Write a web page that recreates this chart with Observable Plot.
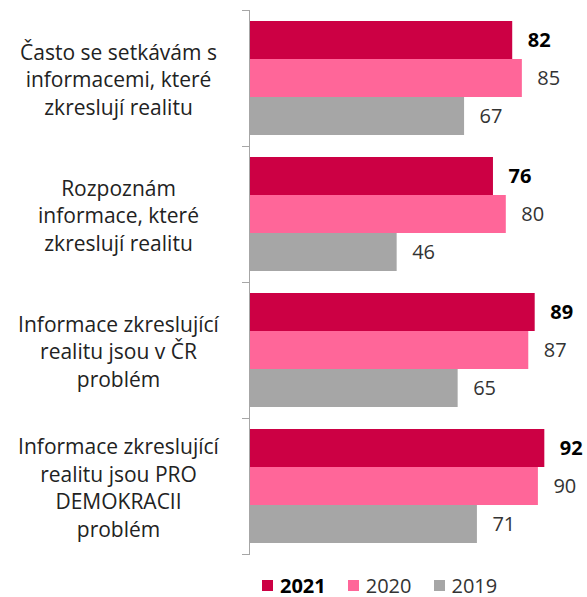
<!DOCTYPE html>
<html>
<head>
<meta charset="utf-8">
<script src="https://cdn.jsdelivr.net/npm/d3@7"></script>
<script src="https://cdn.jsdelivr.net/npm/@observablehq/plot@0.6"></script>
<style>
  html, body { margin: 0; padding: 0; background: #fff; }
  body { width: 587px; height: 597px; overflow: hidden; font-family: "Open Sans", sans-serif; }
  #legend { display: flex; align-items: center; height: 34px; padding-left: 262px; font-size: 20px; color: #333; }
  #legend .item { display: flex; align-items: center; margin-right: 22px; }
  #legend .sw { width: 11px; height: 11px; margin-right: 7px; }
</style>
</head>
<body>
<div id="chart"></div>
<div id="legend"></div>
<script>
const categories = [
  "Často se setkávám s informacemi, které zkreslují realitu",
  "Rozpoznám informace, které zkreslují realitu",
  "Informace zkreslující realitu jsou v ČR problém",
  "Informace zkreslující realitu jsou PRO DEMOKRACII problém"
];
const categoryLabels = [
  "Často se setkávám s\ninformacemi, které\nzkreslují realitu",
  "Rozpoznám\ninformace, které\nzkreslují realitu",
  "Informace zkreslující\nrealitu jsou v ČR\nproblém",
  "Informace zkreslující\nrealitu jsou PRO\nDEMOKRACII\nproblém"
];
const years = ["2021", "2020", "2019"];
const values2021 = [82, 76, 89, 92];
const values2020 = [85, 80, 87, 90];
const values2019 = [67, 46, 65, 71];
const colors = ["#CC0044", "#FF6699", "#A6A6A6"];

const seriesValues = [values2021, values2020, values2019];
const data = [];
categories.forEach((c, i) => {
  years.forEach((y, j) => data.push({category: c, year: y, value: seriesValues[j][i]}));
});
const labelOf = new Map(categories.map((c, i) => [c, categoryLabels[i]]));
const axisGray = "#A6A6A6";

const chart = Plot.plot({
  width: 587,
  height: 568,
  marginLeft: 249,
  marginRight: 17,
  marginTop: 9,
  marginBottom: 14,
  style: {fontFamily: "Open Sans, sans-serif", background: "#fff"},
  x: {domain: [0, 100], axis: null},
  y: {domain: years, paddingInner: 0, paddingOuter: 0.28, axis: null},
  fy: {domain: categories, padding: 0, axis: null},
  color: {domain: years, range: colors},
  marks: [
    Plot.barX(data, {x: "value", y: "year", fy: "category", fill: "year"}),
    Plot.frame({anchor: "left", stroke: axisGray}),
    Plot.frame({anchor: "top", stroke: axisGray, insetLeft: -7, insetRight: 321}),
    Plot.frame({anchor: "bottom", stroke: axisGray, insetLeft: -7, insetRight: 321}),
    Plot.text(data.filter(d => d.year === "2021"), {
      x: "value", y: "year", fy: "category", text: d => String(d.value),
      textAnchor: "start", dx: 15, fontSize: 20, fontWeight: "bold", fill: "#000"
    }),
    Plot.text(data.filter(d => d.year !== "2021"), {
      x: "value", y: "year", fy: "category", text: d => String(d.value),
      textAnchor: "start", dx: 15, fontSize: 20, fill: "#333"
    }),
    Plot.axisFy({
      anchor: "left", tickSize: 0, tickPadding: 0, textAnchor: "middle", dx: -131,
      fontSize: 21, lineHeight: 1.31, fill: "#222", label: null,
      tickFormat: d => labelOf.get(d)
    })
  ]
});
document.getElementById("chart").appendChild(chart);

const legend = document.getElementById("legend");
years.forEach((y, j) => {
  const item = document.createElement("div");
  item.className = "item";
  const sw = document.createElement("div");
  sw.className = "sw";
  sw.style.background = colors[j];
  const t = document.createElement("span");
  t.textContent = y;
  if (j === 0) { t.style.fontWeight = "bold"; t.style.color = "#000"; }
  item.appendChild(sw);
  item.appendChild(t);
  legend.appendChild(item);
});
</script>
</body>
</html>
